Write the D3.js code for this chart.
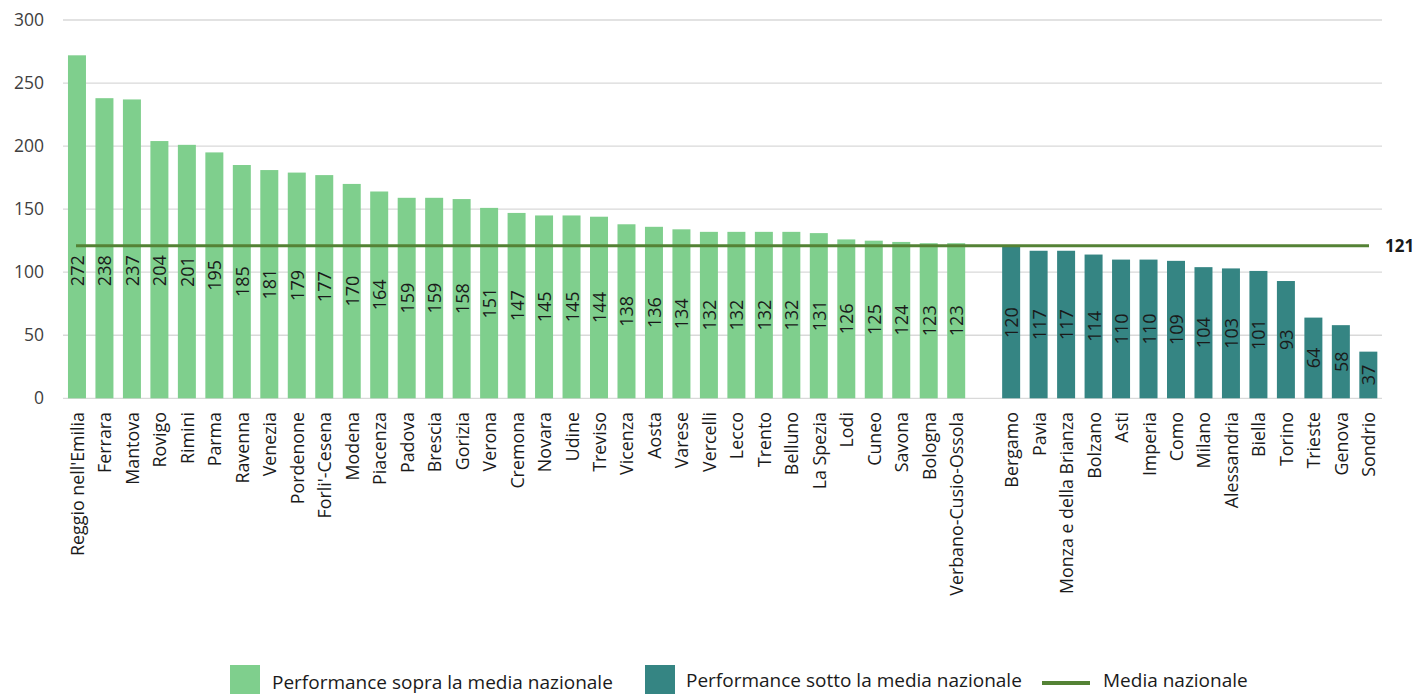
<!DOCTYPE html>
<html><head><meta charset="utf-8">
<script src="https://cdn.jsdelivr.net/npm/d3@7"></script>
<style>
html,body{margin:0;padding:0;background:#fff;overflow:hidden}
text{font-family:"Open Sans",sans-serif}
</style></head>
<body><svg id="c" width="1417" height="694"></svg>
<script>
const aboveCities = ["Reggio nell'Emilia","Ferrara","Mantova","Rovigo","Rimini","Parma","Ravenna","Venezia","Pordenone","Forli'-Cesena","Modena","Piacenza","Padova","Brescia","Gorizia","Verona","Cremona","Novara","Udine","Treviso","Vicenza","Aosta","Varese","Vercelli","Lecco","Trento","Belluno","La Spezia","Lodi","Cuneo","Savona","Bologna","Verbano-Cusio-Ossola"];
const aboveValues = [272,238,237,204,201,195,185,181,179,177,170,164,159,159,158,151,147,145,145,144,138,136,134,132,132,132,132,131,126,125,124,123,123];
const belowCities = ["Bergamo","Pavia","Monza e della Brianza","Bolzano","Asti","Imperia","Como","Milano","Alessandria","Biella","Torino","Trieste","Genova","Sondrio"];
const belowValues = [120,117,117,114,110,110,109,104,103,101,93,64,58,37];
const nationalAverage = 121;
const yTicks = [0,50,100,150,200,250,300];
const legendLabels = ["Performance sopra la media nazionale","Performance sotto la media nazionale","Media nazionale"];

const colAbove = "#7FCF8D", colBelow = "#358583", colLine = "#548235";
const svg = d3.select("#c");

const rows = aboveCities.map((c,i)=>({c, v:aboveValues[i], g:"a"}))
  .concat([{c:"__gap", v:null, g:"gap"}])
  .concat(belowCities.map((c,i)=>({c, v:belowValues[i], g:"b"})));

const x = d3.scaleBand().domain(rows.map(d=>d.c)).range([63.3,1382]).paddingInner(0.345).paddingOuter(0.17);
const y = d3.scaleLinear().domain([0,300]).range([398.3,20]);

// gridlines
svg.append("g").selectAll("line").data(yTicks).join("line")
  .attr("x1",63).attr("x2",1382).attr("y1",d=>y(d)).attr("y2",d=>y(d))
  .attr("stroke","#D9D9D9").attr("stroke-width",1.3);

// y axis labels
const yAxis = d3.axisLeft(y).tickValues(yTicks).tickSize(0).tickPadding(0);
const ya = svg.append("g").attr("transform","translate(44,0)").call(yAxis);
ya.select(".domain").remove();
ya.selectAll("text").attr("font-size","17.5px").attr("fill","#404040").style("font-family","'Open Sans',sans-serif");

const data = rows.filter(d=>d.g!=="gap");
// bars
svg.append("g").selectAll("rect").data(data).join("rect")
  .attr("x",d=>x(d.c)).attr("width",x.bandwidth())
  .attr("y",d=>y(d.v)).attr("height",d=>y(0)-y(d.v))
  .attr("fill",d=>d.g==="a"?colAbove:colBelow);

// average line
svg.append("line").attr("x1",76).attr("x2",1369)
  .attr("y1",y(nationalAverage)).attr("y2",y(nationalAverage))
  .attr("stroke",colLine).attr("stroke-width",3);
svg.append("text").attr("x",1385).attr("y",y(nationalAverage)+2)
  .attr("dominant-baseline","middle").attr("font-size","17px").attr("font-weight","bold")
  .attr("fill","#1a1a1a").text(nationalAverage);

// value labels (centred in bar, kept below the average line)
const minCenter = y(nationalAverage) + 25;
svg.append("g").selectAll("text").data(data).join("text")
  .attr("transform",d=>{
    const cy = Math.max((y(0)+y(d.v))/2, minCenter);
    return `translate(${x(d.c)+x.bandwidth()/2},${cy}) rotate(-90)`;
  })
  .attr("text-anchor","middle").attr("dominant-baseline","central")
  .attr("font-size","18px").attr("fill","#1a1a1a").text(d=>d.v);

// category labels
const catG = svg.append("g");
const cats = catG.selectAll("text").data(data).join("text")
  .attr("transform",d=>`translate(${x(d.c)+x.bandwidth()/2},${412}) rotate(-90)`)
  .attr("text-anchor","end").attr("dominant-baseline","central")
  .attr("font-size","16px").attr("fill","#1a1a1a").text(d=>d.c);
// fit font size so "Reggio nell'Emilia" spans ~144px
const len = cats.filter(d=>d.c==="Reggio nell'Emilia").node().getComputedTextLength();
cats.attr("font-size",(16*144/len)+"px");

// legend
const lg = svg.append("g");
lg.append("rect").attr("x",230).attr("y",665).attr("width",30).attr("height",30).attr("fill",colAbove);
lg.append("text").attr("x",272).attr("y",688.5).attr("font-size","19px").attr("fill","#1a1a1a").text(legendLabels[0]);
lg.append("rect").attr("x",645).attr("y",665).attr("width",30).attr("height",30).attr("fill",colBelow);
lg.append("text").attr("x",686).attr("y",687).attr("font-size","19px").attr("fill","#1a1a1a").text(legendLabels[1]);
lg.append("line").attr("x1",1042).attr("x2",1090).attr("y1",683).attr("y2",683).attr("stroke",colLine).attr("stroke-width",4);
lg.append("text").attr("x",1103).attr("y",687).attr("font-size","19px").attr("fill","#1a1a1a").text(legendLabels[2]);
</script></body></html>
